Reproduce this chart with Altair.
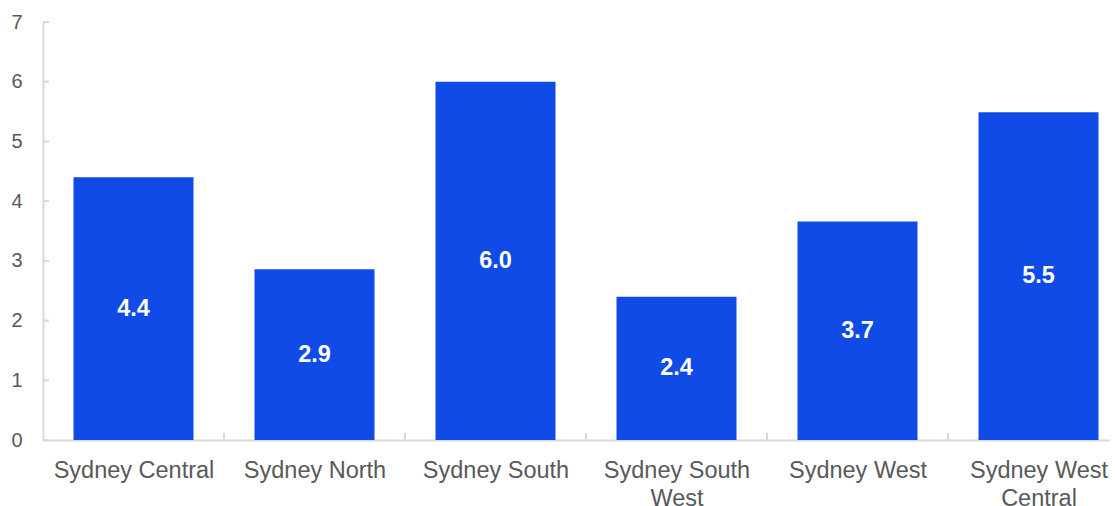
import json
import altair as alt
import pandas as pd

regions = ["Sydney Central", "Sydney North", "Sydney South",
           "Sydney South West", "Sydney West", "Sydney West Central"]
region_lines = [["Sydney Central"], ["Sydney North"], ["Sydney South"],
                ["Sydney South", "West"], ["Sydney West"], ["Sydney West", "Central"]]
values = [4.4, 2.86, 6.0, 2.4, 3.66, 5.49]
y_ticks = [0, 1, 2, 3, 4, 5, 6, 7]

df = pd.DataFrame({"region": regions, "value": values, "i": list(range(len(regions)))})
df_ticks_y = pd.DataFrame({"t": y_ticks})
df_ticks_x = pd.DataFrame({"b": [i + 0.5 for i in range(len(regions) - 1)]})

BLUE = "#104BE8"
GRID = "#D9D9D9"
TXT = "#595959"
FONT = "Liberation Sans"

W = 1067
STEP = 181
HALF = 0.3315

label_expr = json.dumps(region_lines) + "[datum.value]"

xscale = alt.Scale(domain=[-0.5, -0.5 + W / STEP], nice=False, zero=False, padding=0)
yscale = alt.Scale(domain=[0, 7], nice=False, zero=True, padding=0)

x_axis = alt.Axis(title=None, values=list(range(len(regions))), labelExpr=label_expr,
                  labelFontSize=23.5, labelColor=TXT, labelFont=FONT, labelPadding=18,
                  labelLineHeight=28, ticks=False, tickSize=0, grid=False,
                  domainColor=GRID, domainWidth=2, labelAngle=0, labelFlush=False,
                  labelOverlap=False)
y_axis = alt.Axis(title=None, values=y_ticks, format="d", labelFontSize=20, labelColor=TXT,
                  labelFont=FONT, labelPadding=21, ticks=False, tickSize=0,
                  domainColor=GRID, domainWidth=2, grid=False)

base = alt.Chart(df).transform_calculate(
    lo=f"datum.i - {HALF}", hi=f"datum.i + {HALF}", mid="datum.value / 2"
)

bars = base.mark_bar(color=BLUE).encode(
    x=alt.X("lo:Q", scale=xscale, axis=x_axis),
    x2="hi:Q",
    y=alt.Y("value:Q", scale=yscale, axis=y_axis),
    y2=alt.datum(0),
)

labels = base.mark_text(color="white", fontWeight="bold", fontSize=23.5, font=FONT,
                        baseline="middle", align="center").encode(
    x=alt.X("i:Q", scale=xscale),
    y=alt.Y("mid:Q", scale=yscale),
    text=alt.Text("value:Q", format=".1f"),
)

yticks = alt.Chart(df_ticks_y).mark_rule(color=GRID, strokeWidth=2).encode(
    y=alt.Y("t:Q", scale=yscale),
    x=alt.value(0),
    x2=alt.value(6),
)

xticks = alt.Chart(df_ticks_x).mark_rule(color=GRID, strokeWidth=2).encode(
    x=alt.X("b:Q", scale=xscale),
    y=alt.value(411),
    y2=alt.value(418),
)

chart = alt.layer(bars, labels, yticks, xticks).properties(
    width=W, height=418,
    autosize=alt.AutoSizeParams(type="none"),
    padding={"left": 35, "top": 14, "right": 0, "bottom": 66},
).configure_view(stroke=None)

chart.save("out.html", embed_options={"renderer": "svg", "actions": False})
